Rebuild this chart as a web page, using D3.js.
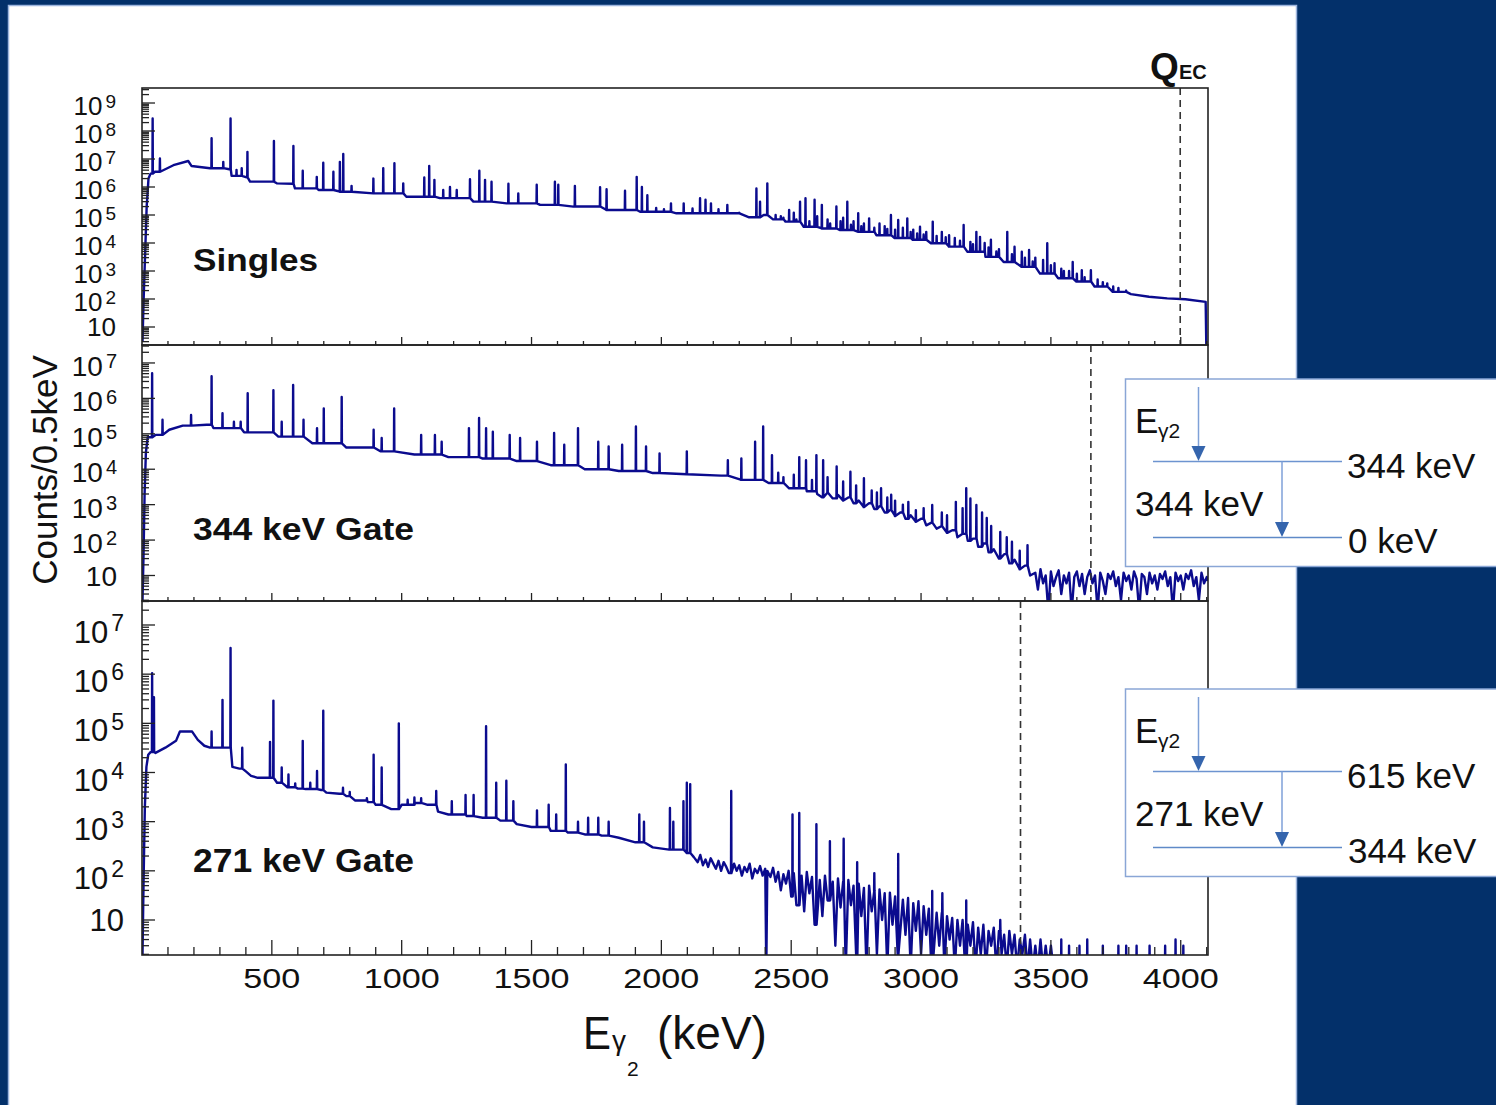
<!DOCTYPE html>
<html>
<head>
<meta charset="utf-8">
<script src="https://cdn.jsdelivr.net/npm/d3@7"></script>
<style>
  html, body { margin: 0; padding: 0; background: #03306a; }
  svg { display: block; }
  text { font-family: "Liberation Sans", Arial, Helvetica, sans-serif; fill: #111; }
</style>
</head>
<body>
<svg id="chart" width="1496" height="1105"></svg>
<script>
// ---- Axis values ----
const energyRange = [0, 4105];
const energyTicks = [500, 1000, 1500, 2000, 2500, 3000, 3500, 4000];
const energyMinorStep = 100;
const qValueEC = 3998;                       // keV
const panelTitles = ["Singles", "344 keV Gate", "271 keV Gate"];
const fedLevel = [0, 344, 615];              // level fed before E_gamma2; dashed line at Q_EC - level

// ---- Level schemes (keV) ----
const schemeUpper = [344, 615];
const schemeGate = [344, 271];
const schemeLower = [0, 344];

// ---- Singles spectrum: continuum [E keV, counts] and peaks [E keV, top counts] ----
const singlesContinuum = [
  [2, 3], [6, 80], [12, 4e3], [18, 2e5], [25, 2.0e6], [33, 3.0e6], [50, 3.5e6], [121, 6.0e6],
  [178, 8.5e6], [191, 5.6e6], [262, 4.7e6], [336, 4.3e6], [345, 2.5e6], [403, 2.2e6], [416, 1.55e6],
  [506, 1.55e6], [519, 1.35e6], [580, 1.3e6], [589, 8.9e5], [680, 7.8e5], [762, 6.8e5], [891, 5.9e5],
  [1018, 4.5e5], [1147, 4.0e5], [1276, 3.0e5], [1404, 2.6e5], [1533, 2.3e5], [1661, 2.0e5],
  [1789, 1.5e5], [1918, 1.3e5], [2058, 1.15e5], [2198, 1.15e5], [2338, 8.3e4], [2394, 1.0e5],
  [2430, 7.0e4], [2478, 5.8e4], [2548, 3.8e4], [2618, 3.3e4], [2688, 2.9e4], [2758, 2.5e4],
  [2828, 1.9e4], [2898, 1.5e4], [2968, 1.3e4], [3038, 9.8e3], [3108, 7.4e3], [3178, 4.9e3],
  [3248, 3.2e3], [3318, 2.1e3], [3388, 1.4e3], [3458, 8.1e2], [3528, 5.5e2], [3598, 4.2e2],
  [3668, 2.8e2], [3738, 1.8e2], [3808, 1.5e2], [3878, 1.2e2], [3948, 1.05e2], [4018, 98],
  [4096, 79], [4099, 1]
];
const singlesPeaks = [
  [41, 2.8e8], [69, 1.05e7], [268, 5.5e7], [313, 7.9e6], [341, 2.8e8], [364, 4.1e6], [384, 4.7e6],
  [406, 1.8e7], [508, 4.4e7], [583, 2.9e7], [619, 3.8e6], [673, 2.3e6], [698, 7.4e6], [737, 3.5e6],
  [762, 7.9e6], [775, 1.5e7], [807, 1.1e6], [891, 2.0e6], [929, 4.7e6], [972, 7.1e6], [1006, 1.35e6],
  [1087, 2.2e6], [1106, 5.6e6], [1126, 1.8e6], [1160, 7.8e5], [1186, 1.0e6], [1212, 7.8e5],
  [1263, 1.9e6], [1299, 3.8e6], [1321, 1.8e6], [1346, 1.55e6], [1411, 1.3e6], [1449, 5.9e5],
  [1520, 1.2e6], [1590, 1.55e6], [1603, 1.2e6], [1667, 1.1e6], [1764, 9.8e5], [1789, 8.3e5],
  [1860, 7.4e5], [1905, 2.3e6], [1925, 1.0e6], [1946, 5.1e5], [1980, 1.8e5], [2010, 1.6e5],
  [2037, 2.6e5], [2086, 2.6e5], [2120, 1.7e5], [2149, 4.0e5], [2170, 3.5e5], [2191, 2.6e5],
  [2220, 1.6e5], [2254, 2.3e5], [2300, 1.2e5], [2366, 8.9e5], [2380, 3.0e5], [2408, 1.35e6],
  [2440, 1.0e5], [2460, 9e4], [2470, 8e4], [2492, 1.5e5], [2510, 1.2e5], [2520, 7e4], [2534, 3.0e5],
  [2555, 4.0e5], [2570, 6e4], [2590, 3.5e5], [2600, 9e4], [2618, 2.3e5], [2640, 7e4], [2650, 5e4],
  [2674, 2.0e5], [2690, 6e4], [2700, 8e4], [2716, 3.0e5], [2730, 4.5e4], [2740, 6e4],
  [2758, 1.15e5], [2770, 4e4], [2780, 5e4], [2800, 7.6e4], [2820, 3.5e4], [2840, 5e4], [2860, 4e4],
  [2870, 3.2e4], [2884, 1.0e5], [2900, 3e4], [2912, 6.6e4], [2930, 3.5e4], [2947, 7.6e4],
  [2960, 2.5e4], [2970, 3e4], [2985, 2.2e4], [2996, 3.8e4], [3010, 2.0e4], [3020, 2.5e4],
  [3045, 5.8e4], [3060, 1.8e4], [3080, 2.5e4], [3095, 1.6e4], [3108, 1.9e4], [3130, 1.5e4],
  [3150, 1.2e4], [3164, 4.4e4], [3190, 1.1e4], [3200, 9e3], [3213, 2.5e4], [3227, 1.66e4],
  [3245, 1.0e4], [3260, 7e3], [3269, 1.3e4], [3290, 5e3], [3300, 6e3], [3332, 2.5e4], [3350, 4e3],
  [3360, 7.4e3], [3388, 4.9e3], [3400, 3e3], [3416, 5.6e3], [3430, 2.2e3], [3440, 3e3], [3470, 2.5e3],
  [3486, 9.8e3], [3500, 1.6e3], [3514, 1.9e3], [3540, 1.2e3], [3550, 1.0e3], [3570, 1.0e3],
  [3584, 2.1e3], [3600, 8e2], [3619, 1.07e3], [3630, 6e2], [3654, 1.07e3], [3680, 5e2], [3700, 4e2],
  [3717, 3.6e2], [3740, 2.8e2], [3760, 2.5e2], [3790, 2.0e2]
];

// ---- 344 keV gate ----
const gate344Continuum = [
  [2, 2], [6, 40], [10, 2e3], [15, 3e4], [22, 8e4], [52, 9.3e4], [105, 1.3e5], [157, 1.7e5],
  [249, 1.8e5], [275, 1.45e5], [393, 1.1e5], [525, 8.3e4], [656, 5.4e4], [787, 4.1e4], [918, 3.2e4],
  [1049, 2.6e4], [1180, 2.2e4], [1312, 2.0e4], [1443, 1.7e4], [1574, 1.3e4], [1705, 1.0e4],
  [1836, 8.9e3], [1967, 7.8e3], [2098, 7.2e3], [2230, 6.6e3], [2308, 5.0e3], [2413, 4.1e3],
  [2492, 2.9e3], [2560, 2.4e3], [2600, 2.0e3], [2620, 1.6e3], [2640, 2.2e3], [2660, 1.5e3],
  [2680, 1.9e3], [2700, 1.3e3], [2720, 1.6e3], [2740, 1.1e3], [2760, 1.3e3], [2780, 850],
  [2800, 1.1e3], [2820, 750], [2840, 900], [2860, 600], [2880, 700], [2900, 480], [2920, 600],
  [2940, 400], [2960, 500], [2980, 330], [3000, 400], [3020, 260], [3040, 310], [3060, 210],
  [3080, 250], [3100, 160], [3120, 190], [3140, 120], [3160, 150], [3180, 95], [3200, 110],
  [3220, 65], [3240, 80], [3260, 45], [3280, 55], [3300, 30], [3320, 40], [3340, 22], [3360, 28],
  [3380, 15], [3400, 19], [3420, 10], [3440, 12], [3450, 4], [3460, 15], [3470, 6], [3480, 10],
  [3490, 1], [3500, 13], [3510, 5], [3520, 9], [3530, 14], [3540, 3], [3550, 10], [3560, 6],
  [3570, 12], [3580, 1], [3590, 9], [3600, 13], [3610, 5], [3620, 11], [3630, 3], [3640, 9],
  [3650, 14], [3660, 6], [3670, 10], [3680, 1], [3690, 12], [3700, 7], [3710, 3], [3720, 11],
  [3730, 8], [3740, 13], [3750, 5], [3760, 9], [3770, 2], [3780, 12], [3790, 7], [3800, 10],
  [3810, 4], [3820, 13], [3830, 8], [3840, 1], [3850, 11], [3860, 9], [3870, 3], [3880, 12],
  [3890, 6], [3900, 10], [3910, 4], [3920, 11], [3930, 8], [3940, 13], [3950, 5], [3960, 9],
  [3970, 1], [3980, 12], [3990, 7], [4000, 10], [4010, 4], [4020, 11], [4030, 8], [4040, 14],
  [4050, 5], [4060, 9], [4070, 2], [4080, 12], [4090, 6], [4100, 9], [4104, 7]
];
const gate344Peaks = [
  [39, 5.1e6], [79, 2.5e5], [189, 3.4e5], [268, 4.2e6], [310, 3.8e5], [354, 2.2e5], [380, 2.2e5],
  [407, 1.4e6], [506, 1.7e6], [538, 2.2e5], [582, 2.4e6], [622, 2.5e5], [674, 1.45e5], [700, 5.2e5],
  [769, 1.1e6], [892, 1.3e5], [923, 7.6e4], [971, 5.2e5], [1075, 9.3e4], [1128, 9.3e4], [1154, 6.0e4],
  [1259, 1.45e5], [1298, 2.8e5], [1325, 1.45e5], [1351, 1.15e5], [1416, 9.3e4], [1456, 7.6e4],
  [1521, 6.0e4], [1587, 1.05e5], [1626, 4.9e4], [1679, 1.45e5], [1757, 6.0e4], [1797, 4.4e4],
  [1849, 4.9e4], [1902, 1.6e5], [1941, 4.4e4], [1993, 2.8e4], [2098, 3.2e4], [2256, 1.8e4],
  [2308, 2.0e4], [2361, 6.0e4], [2392, 1.6e5], [2426, 2.5e4], [2450, 8e3], [2470, 6e3], [2510, 7e3],
  [2531, 2.2e4], [2557, 1.8e4], [2580, 5e3], [2597, 2.5e4], [2623, 1.8e4], [2640, 6e3],
  [2675, 1.2e4], [2700, 4.5e3], [2728, 8.5e3], [2750, 3.5e3], [2780, 5.6e3], [2810, 2.5e3],
  [2830, 2.2e3], [2846, 2.9e3], [2870, 1.6e3], [2885, 1.9e3], [2900, 1.3e3], [2930, 1.0e3],
  [2951, 1.2e3], [2980, 700], [3010, 800], [3043, 980], [3080, 600], [3100, 500],
  [3134, 1.2e3], [3160, 800], [3174, 2.9e3], [3190, 1.5e3], [3213, 980], [3235, 600], [3253, 420],
  [3270, 250], [3305, 170], [3330, 120], [3350, 90], [3380, 50], [3410, 72]
];

// ---- 271 keV gate ----
const gate271Continuum = [
  [2, 2], [6, 60], [11, 2e3], [17, 1.3e4], [24, 2.3e4], [33, 2.6e4], [52, 2.5e4], [90, 3.2e4],
  [131, 4.4e4], [146, 6.8e4], [193, 6.8e4], [215, 4.6e4], [240, 3.5e4], [262, 3.2e4], [336, 3.2e4],
  [348, 1.3e4], [375, 1.2e4], [400, 1.05e4], [420, 8.5e3], [446, 7.8e3], [498, 7.8e3], [520, 6.2e3],
  [560, 5.0e3], [600, 4.7e3], [630, 4.6e3], [690, 4.4e3], [710, 3.9e3], [760, 3.7e3], [787, 3.3e3],
  [820, 2.7e3], [870, 2.5e3], [900, 2.2e3], [960, 1.8e3], [1000, 2.2e3], [1050, 2.4e3], [1100, 2.2e3],
  [1140, 1.6e3], [1180, 1.4e3], [1250, 1.3e3], [1312, 1.2e3], [1380, 1.05e3], [1443, 890],
  [1500, 780], [1574, 650], [1640, 600], [1705, 550], [1770, 520], [1836, 470], [1900, 380],
  [1967, 300], [2030, 270], [2098, 230], [2125, 190], [2140, 150], [2150, 210], [2160, 130],
  [2170, 170], [2180, 120], [2190, 180], [2200, 140], [2210, 110], [2220, 160], [2230, 100],
  [2240, 150], [2250, 120], [2260, 90], [2280, 140], [2290, 100], [2300, 130], [2310, 80],
  [2320, 120], [2330, 95], [2340, 140], [2350, 70], [2360, 110], [2370, 90], [2380, 125], [2390, 80],
  [2400, 110], [2404, 1], [2408, 100], [2420, 75], [2430, 115], [2440, 60], [2450, 95], [2460, 40],
  [2470, 85], [2480, 55], [2490, 100], [2500, 30], [2510, 90], [2520, 20], [2540, 80], [2550, 15],
  [2560, 95], [2570, 35], [2580, 75], [2590, 8], [2610, 65], [2620, 12], [2630, 80], [2640, 25],
  [2660, 60], [2670, 3], [2680, 70], [2690, 18], [2700, 60], [2710, 1], [2720, 65], [2730, 20],
  [2740, 50], [2750, 2], [2760, 55], [2770, 12], [2780, 45], [2790, 1], [2800, 50], [2810, 15],
  [2820, 40], [2830, 2], [2840, 42], [2850, 10], [2860, 35], [2870, 1], [2880, 36], [2890, 8],
  [2900, 30], [2910, 2], [2930, 26], [2940, 5], [2950, 28], [2960, 1], [2970, 22], [2980, 6],
  [2990, 24], [3000, 2], [3010, 19], [3020, 5], [3030, 17], [3040, 1], [3060, 14], [3070, 3],
  [3080, 14], [3090, 1], [3100, 12], [3110, 4], [3120, 11], [3130, 1], [3140, 10], [3150, 3],
  [3160, 10], [3170, 1], [3180, 8], [3190, 3], [3200, 9], [3210, 1], [3220, 7], [3230, 2],
  [3240, 8], [3250, 1], [3260, 6], [3270, 3], [3280, 7], [3290, 1], [3300, 6], [3310, 2], [3320, 5],
  [3330, 1], [3340, 6], [3350, 2], [3360, 5], [3370, 1], [3380, 4], [3390, 2], [3400, 5], [3410, 1],
  [3420, 4], [3430, 1], [3440, 3], [3450, 1], [3460, 4], [3470, 1], [3480, 3], [3490, 1], [3500, 3],
  [3510, 1], [4104, 1]
];
const gate271Peaks = [
  [39, 1.05e6], [46, 3.4e5], [268, 6.8e4], [310, 3.0e5], [341, 3.4e6], [386, 3.2e4], [493, 4.2e4],
  [506, 2.9e5], [538, 1.26e4], [564, 9.1e3], [590, 6e3], [619, 4.4e4], [648, 6.2e3], [674, 1.07e4],
  [698, 1.8e5], [774, 4.9e3], [800, 4.0e3], [866, 3.0e3], [892, 2.3e4], [923, 1.26e4], [989, 1.0e5],
  [1023, 2.8e3], [1049, 3.1e3], [1075, 3.0e3], [1133, 4.2e3], [1193, 2.6e3], [1246, 3.5e3],
  [1277, 3.5e3], [1325, 8.7e4], [1364, 6.2e3], [1403, 6.8e3], [1430, 2.6e3], [1521, 1.7e3],
  [1566, 2.2e3], [1595, 1.4e3], [1632, 1.45e4], [1679, 1.0e3], [1718, 1.2e3], [1757, 1.2e3],
  [1797, 1.0e3], [1915, 1.4e3], [1933, 1.0e3], [2033, 1.9e3], [2046, 1.0e3], [2085, 2.6e3],
  [2098, 6.2e3], [2111, 5.8e3], [2269, 4.2e3], [2505, 1.4e3], [2531, 1.5e3], [2597, 890],
  [2649, 400], [2702, 450], [2754, 150], [2820, 90], [2912, 220], [3043, 39], [3082, 35],
  [3174, 25], [3305, 10], [3540, 4], [3570, 3], [3610, 3], [3640, 4], [3700, 3], [3760, 3],
  [3790, 3], [3830, 3], [3880, 3], [3940, 3], [3980, 4], [4010, 3]
];

const spectra = [
  [singlesContinuum, singlesPeaks],
  [gate344Continuum, gate344Peaks],
  [gate271Continuum, gate271Peaks]
];

// ---- Layout ----
const svg = d3.select("#chart");
const X0 = 142, X1 = 1208;
const x = d3.scaleLinear().domain(energyRange).range([X0, X1]);

const layouts = [
  { top: 88,  bottom: 345, exp: [0.357, 9.536], decades: d3.range(1, 10), font: 26, sup: 19, right: 116, shift: 3, titleY: 271, titleSize: 32, titleLen: 125, major: 8, minor: 4 },
  { top: 345, bottom: 601, exp: [0.28, 7.507],  decades: d3.range(1, 8),  font: 28, sup: 20, right: 117, shift: 3, titleY: 540, titleSize: 32, titleLen: 221, major: 8, minor: 4 },
  { top: 601, bottom: 955, exp: [0.288, 7.488], decades: d3.range(1, 8),  font: 31, sup: 23, right: 124, shift: 7, titleY: 872, titleSize: 33, titleLen: 221, major: 15, minor: 8 }
];

// page background and white slide area
svg.append("rect").attr("width", 1496).attr("height", 1105).attr("fill", "#03306a");
svg.append("rect").attr("x", 8.5).attr("y", 5.5).attr("width", 1288).attr("height", 1105)
  .attr("fill", "#ffffff").attr("stroke", "#9db5de").attr("stroke-width", 1.5);

const defs = svg.append("defs");

// merge continuum and peaks into one histogram-like trace
function tracePoints(continuum, peaks) {
  const events = continuum.map(d => ({ e: d[0], c: d[1], peak: false }))
    .concat(peaks.map(d => ({ e: d[0], c: d[1], peak: true })));
  events.sort((a, b) => a.e - b.e);
  const pts = [];
  let base = continuum[0][1];
  for (const ev of events) {
    if (!ev.peak) { pts.push([ev.e, ev.c]); base = ev.c; }
    else { pts.push([ev.e - 0.8, base], [ev.e, ev.c], [ev.e + 0.8, base]); }
  }
  return pts;
}

layouts.forEach((L, i) => {
  const y = d3.scaleLog().domain([10 ** L.exp[0], 10 ** L.exp[1]]).range([L.bottom, L.top]);
  const g = svg.append("g");

  defs.append("clipPath").attr("id", "clip" + i)
    .append("rect").attr("x", X0).attr("y", L.top).attr("width", X1 - X0).attr("height", L.bottom - L.top);

  // spectrum trace
  const line = d3.line().x(d => x(d[0])).y(d => y(d[1]));
  g.append("path")
    .attr("clip-path", `url(#clip${i})`)
    .attr("d", line(tracePoints(spectra[i][0], spectra[i][1])))
    .attr("fill", "none").attr("stroke", "#0b0b8e").attr("stroke-width", 2.4)
    .attr("stroke-linejoin", "round");

  // Q-value marker
  const qx = x(qValueEC - fedLevel[i]);
  g.append("line").attr("x1", qx).attr("x2", qx).attr("y1", L.top).attr("y2", L.bottom)
    .attr("stroke", "#333").attr("stroke-width", 1.6).attr("stroke-dasharray", "7,5");

  // frame
  g.append("rect").attr("x", X0).attr("y", L.top).attr("width", X1 - X0).attr("height", L.bottom - L.top)
    .attr("fill", "none").attr("stroke", "#222").attr("stroke-width", 1.6);

  // energy ticks (inward)
  d3.range(energyMinorStep, energyRange[1], energyMinorStep).forEach(v => {
    const len = v % 500 === 0 ? L.major : L.minor;
    g.append("line").attr("x1", x(v)).attr("x2", x(v)).attr("y1", L.bottom).attr("y2", L.bottom - len)
      .attr("stroke", "#222").attr("stroke-width", 1.3);
  });

  // log ticks (inward)
  for (let k = Math.floor(L.exp[0]); k <= Math.floor(L.exp[1]); k++) {
    for (let m = 1; m <= 9; m++) {
      const v = m * 10 ** k;
      if (v < 10 ** L.exp[0] || v > 10 ** L.exp[1]) continue;
      const len = m === 1 ? 13 : 7;
      g.append("line").attr("x1", X0).attr("x2", X0 + len).attr("y1", y(v)).attr("y2", y(v))
        .attr("stroke", "#222").attr("stroke-width", 1.3);
    }
  }

  // decade labels
  L.decades.forEach(k => {
    const ty = y(10 ** k);
    if (k === 1) {
      g.append("text").attr("x", L.right).attr("y", ty + 0.36 * L.font)
        .attr("text-anchor", "end").attr("font-size", L.font).text("10");
    } else {
      const supW = 0.556 * L.sup + 3;
      g.append("text").attr("x", L.right).attr("y", ty - 2 + 0.36 * L.sup)
        .attr("text-anchor", "end").attr("font-size", L.sup).text(k);
      g.append("text").attr("x", L.right - supW).attr("y", ty + L.shift + 0.36 * L.font)
        .attr("text-anchor", "end").attr("font-size", L.font).text("10");
    }
  });

  // panel title
  g.append("text").attr("x", 193).attr("y", L.titleY)
    .attr("font-size", L.titleSize).attr("font-weight", "bold")
    .attr("textLength", L.titleLen).attr("lengthAdjust", "spacingAndGlyphs")
    .text(panelTitles[i]);
});

// energy labels under the last panel
energyTicks.forEach(v => {
  const s = String(v);
  svg.append("text").attr("x", x(v)).attr("y", 988).attr("text-anchor", "middle")
    .attr("font-size", 28).attr("textLength", s.length * 19).attr("lengthAdjust", "spacingAndGlyphs")
    .text(s);
});

// axis titles
svg.append("text").attr("x", 583).attr("y", 1049).attr("font-size", 46)
  .attr("textLength", 28).attr("lengthAdjust", "spacingAndGlyphs").text("E");
svg.append("text").attr("x", 612).attr("y", 1050).attr("font-size", 28).text("γ");
svg.append("text").attr("x", 627).attr("y", 1076).attr("font-size", 21).text("2");
svg.append("text").attr("x", 657).attr("y", 1049).attr("font-size", 46).text("(keV)");

svg.append("text").attr("transform", "translate(57,470) rotate(-90)")
  .attr("text-anchor", "middle").attr("font-size", 35).text("Counts/0.5keV");

// Q_EC label
svg.append("text").attr("x", 1150).attr("y", 79).attr("font-size", 37).attr("font-weight", "bold").text("Q");
svg.append("text").attr("x", 1179).attr("y", 79).attr("font-size", 20).attr("font-weight", "bold").text("EC");

// level schemes
schemeUpper.forEach((lvl, i) => {
  const oy = 379 + i * 310;
  const s = svg.append("g");
  s.append("rect").attr("x", 1125.5).attr("y", oy).attr("width", 380).attr("height", 187.5)
    .attr("fill", "#fff").attr("stroke", "#8aa6d6").attr("stroke-width", 1.5);
  // feeding gamma
  s.append("line").attr("x1", 1198.5).attr("x2", 1198.5).attr("y1", oy + 8).attr("y2", oy + 68)
    .attr("stroke", "#7fa1d8").attr("stroke-width", 1.5);
  s.append("polygon").attr("points", `1191.5,${oy + 67} 1205.5,${oy + 67} 1198.5,${oy + 82}`).attr("fill", "#3565ad");
  // upper level
  s.append("line").attr("x1", 1153).attr("x2", 1342).attr("y1", oy + 82.5).attr("y2", oy + 82.5)
    .attr("stroke", "#6d94d0").attr("stroke-width", 1.5);
  // gating gamma
  s.append("line").attr("x1", 1282).attr("x2", 1282).attr("y1", oy + 82.5).attr("y2", oy + 143)
    .attr("stroke", "#7fa1d8").attr("stroke-width", 1.5);
  s.append("polygon").attr("points", `1275,${oy + 143} 1289,${oy + 143} 1282,${oy + 158}`).attr("fill", "#3565ad");
  // lower level
  s.append("line").attr("x1", 1153).attr("x2", 1342).attr("y1", oy + 158.5).attr("y2", oy + 158.5)
    .attr("stroke", "#5f8ac8").attr("stroke-width", 1.5);

  s.append("text").attr("x", 1135).attr("y", oy + 54).attr("font-size", 35).text("E");
  s.append("text").attr("x", 1158).attr("y", oy + 59).attr("font-size", 21).text("γ2");
  s.append("text").attr("x", 1347).attr("y", oy + 99).attr("font-size", 35).text(`${lvl} keV`);
  s.append("text").attr("x", 1135).attr("y", oy + 137).attr("font-size", 35).text(`${schemeGate[i]} keV`);
  s.append("text").attr("x", 1348).attr("y", oy + 174).attr("font-size", 35).text(`${schemeLower[i]} keV`);
});
</script>
</body>
</html>
